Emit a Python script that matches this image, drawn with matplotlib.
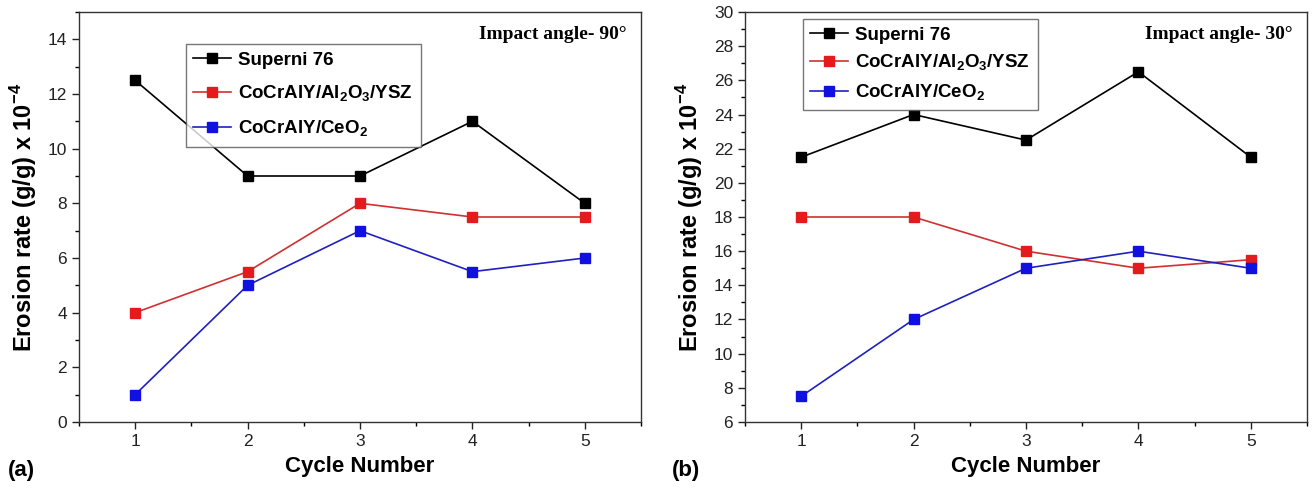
import matplotlib
matplotlib.use("Agg")
import matplotlib.pyplot as plt
from matplotlib.ticker import MultipleLocator

cycles = [1, 2, 3, 4, 5]
series_names = ["Superni 76", "CoCrAlY/Al$_2$O$_3$/YSZ", "CoCrAlY/CeO$_2$"]
colors = ["#000000", "#e41a1c", "#1010e0"]
line_colors = ["#000000", "#d03030", "#2020c0"]

a_superni = [12.5, 9, 9, 11, 8]
a_al2o3 = [4, 5.5, 8, 7.5, 7.5]
a_ceo2 = [1, 5, 7, 5.5, 6]

b_superni = [21.5, 24, 22.5, 26.5, 21.5]
b_al2o3 = [18, 18, 16, 15, 15.5]
b_ceo2 = [7.5, 12, 15, 16, 15]

plt.rcParams['font.family'] = ['Liberation Sans', 'DejaVu Sans']
plt.rcParams['mathtext.fontset'] = 'custom'
plt.rcParams['mathtext.rm'] = 'Liberation Sans:bold'
plt.rcParams['mathtext.bf'] = 'Liberation Sans:bold'

fig = plt.figure(figsize=(13.12, 4.9), dpi=100)
ax1 = fig.add_axes([0.0602, 0.1388, 0.4284, 0.8367])
ax2 = fig.add_axes([0.5678, 0.1388, 0.4284, 0.8367])

def draw(ax, data, ylim, title, leg_anchor, spacing):
    for vals, c, lc, name in zip(data, colors, line_colors, series_names):
        ax.plot(cycles, vals, color=lc, lw=1.2, marker='s', markersize=6.5,
                markerfacecolor=c, markeredgecolor=c, label=name)
    ax.set_xlim(0.5, 5.5)
    ax.set_ylim(*ylim)
    ax.set_xticks(cycles)
    ax.xaxis.set_minor_locator(MultipleLocator(0.5))
    ax.yaxis.set_major_locator(MultipleLocator(2))
    ax.yaxis.set_minor_locator(MultipleLocator(1))
    ax.tick_params(which='major', direction='out', length=5, width=1, labelsize=12.5, colors='#222222')
    ax.tick_params(which='minor', direction='out', length=3, width=1)
    for s in ax.spines.values():
        s.set_linewidth(1.0)
        s.set_color('#333333')
    ax.set_xlabel("Cycle Number", fontsize=16, fontweight='bold', labelpad=5)
    ax.set_ylabel("Erosion rate (g/g) x 10$^{-4}$", fontsize=17, fontweight='bold', labelpad=6)
    ax.text(0.975, 0.965, title, transform=ax.transAxes, ha='right', va='top',
            fontsize=14, fontweight='bold', family=['Liberation Serif', 'DejaVu Serif'])
    leg = ax.legend(loc='upper left', bbox_to_anchor=leg_anchor,
                    prop={'weight': 'bold', 'size': 13.5}, frameon=True, fancybox=False,
                    edgecolor='#555555', handlelength=2.0, borderpad=0.4, labelspacing=spacing,
                    handletextpad=0.4, borderaxespad=0)
    leg.get_frame().set_linewidth(1.0)

draw(ax1, [a_superni, a_al2o3, a_ceo2], (0, 15), "Impact angle- 90°", (0.19, 0.922), 0.8)
draw(ax2, [b_superni, b_al2o3, b_ceo2], (6, 30), "Impact angle- 30°", (0.103, 0.983), 0.5)

fig.text(8/1312, 1 - 470/490, "(a)", fontsize=16, fontweight='bold', va='center', ha='left')
fig.text(672/1312, 1 - 470/490, "(b)", fontsize=16, fontweight='bold', va='center', ha='left')

fig.savefig("out.png", dpi=100)
